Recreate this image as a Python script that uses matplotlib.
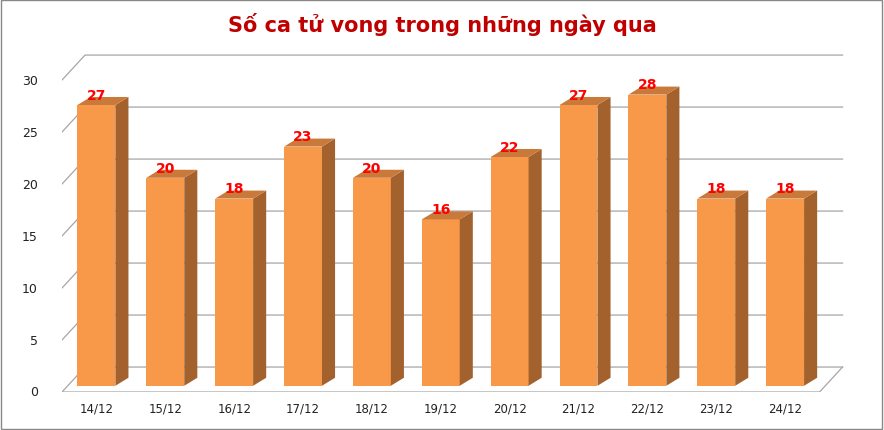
import matplotlib
matplotlib.use("Agg")
import matplotlib.pyplot as plt
from matplotlib.patches import Polygon

categories = ["14/12","15/12","16/12","17/12","18/12","19/12","20/12","21/12","22/12","23/12","24/12"]
values = [27,20,18,23,20,16,22,27,28,18,18]
yticks = [0,5,10,15,20,25,30]

fig = plt.figure(figsize=(8.84,4.31), dpi=100)
ax = fig.add_axes([62/884, 38/431, 792/884, 349.4/431])
ax.set_xlim(-0.5, 11.0)
ax.set_ylim(-0.6, 33)
ax.axis("off")

wdx, wdy = 0.334, 2.4      # wall depth offset
bdx, bdy = 0.19, 0.77      # bar depth offset
bw = 0.55
x0, x1 = -0.5, 10.5
grid_c = "#a6a6a6"
for t in yticks:
    yf = t - 0.6
    yb = yf + wdy
    ax.plot([x0, x0+wdx, x1+wdx], [yf, yb, yb], color=grid_c, lw=0.9, zorder=1)
    ax.text(-0.85, yf, str(t), ha="right", va="center", fontsize=9, color="#222")
# floor
ax.plot([x0, x1, x1+wdx], [-0.6, -0.6, -0.6+wdy], color=grid_c, lw=0.9, zorder=1)

ax.bar(range(len(values)), values, width=bw, color="#f8994a", zorder=3)
for i, v in enumerate(values):
    l, r = i - bw/2, i + bw/2
    ax.add_patch(Polygon([(r,0),(r+bdx,bdy),(r+bdx,v+bdy),(r,v)], closed=True,
                         fc="#a3612d", ec="none", zorder=3))
    ax.add_patch(Polygon([(l,v),(r,v),(r+bdx,v+bdy),(l+bdx,v+bdy)], closed=True,
                         fc="#c97a3a", ec="none", zorder=3))
    ax.text(i, v + 0.3, str(v), ha="center", va="bottom", fontsize=10,
            fontweight="bold", color="#ff0000", zorder=4)
    ax.text(i, -2.1, categories[i], ha="center", va="center", fontsize=8.5, color="#222")

fig.text(0.5, 1-25/431, "Số ca tử vong trong những ngày qua", ha="center", va="center",
         fontsize=15, fontweight="bold", color="#c00000")
fig.patches.append(plt.Rectangle((0.001,0.002),0.997,0.995, transform=fig.transFigure,
                                 fill=False, ec="#888", lw=1))
fig.savefig("out.png", dpi=100)
